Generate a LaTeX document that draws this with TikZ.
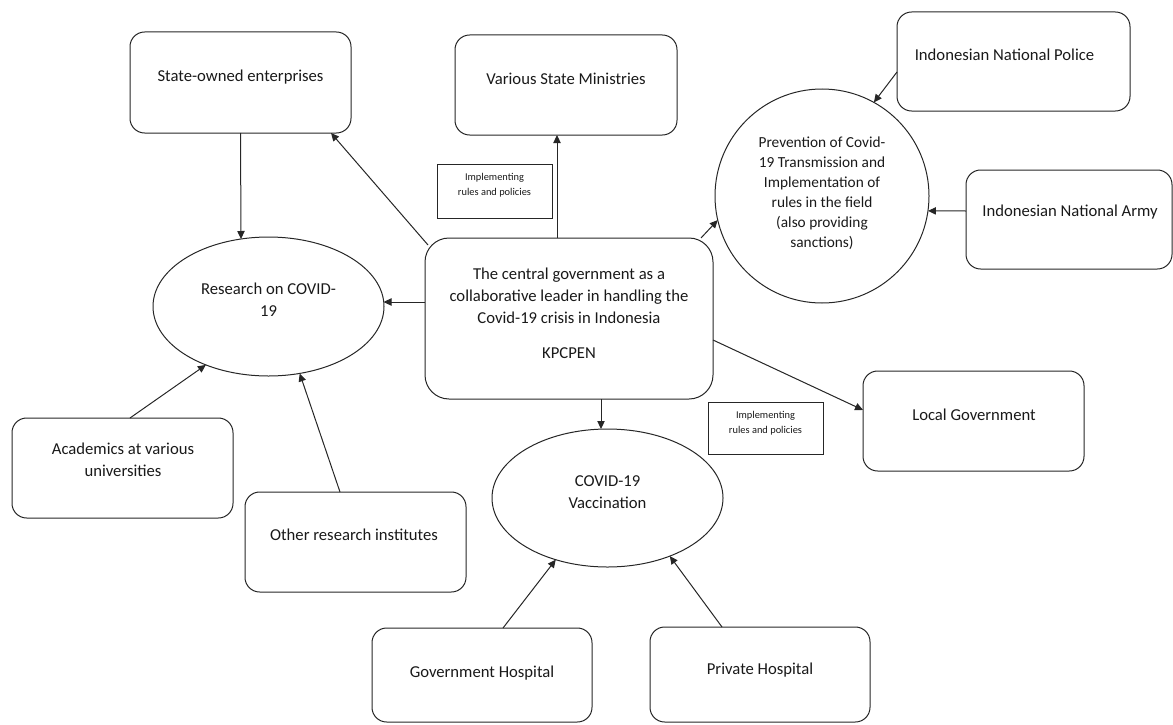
\documentclass[tikz,border=0pt]{standalone}
\usepackage{fontspec}
\setmainfont{Carlito}
\usetikzlibrary{arrows.meta,shapes.geometric,calc}
\begin{document}
\begin{tikzpicture}[x=0.75pt,y=-0.75pt,
  shp/.style={draw=black!85, line width=0.75pt, inner sep=0pt, outer sep=0pt},
  rbox/.style={shp, rectangle, rounded corners=11pt},
  sbox/.style={shp, rectangle},
  ell/.style={shp, ellipse},
  txt/.style={align=center, font=\fontsize{12.5pt}{16.5pt}\selectfont, text=black!90, inner sep=0pt},
  smalltxt/.style={align=center, font=\fontsize{7.8pt}{11.25pt}\selectfont, text=black!90, inner sep=0pt},
  arr/.style={draw=black!85, line width=0.75pt, -{Triangle[length=6pt,width=5.5pt]}}
]
\useasboundingbox (0,0) rectangle (1173,724);

% shapes
\node[rbox, minimum width=165.75pt, minimum height=75.75pt] (soe) at (240.5,82.5) {};
\node[rbox, minimum width=166.5pt, minimum height=75pt] (vsm) at (566,85) {};
\node[rbox, minimum width=174.75pt, minimum height=74.25pt] (police) at (1013.5,61.5) {};
\node[rbox, minimum width=154.5pt, minimum height=74.25pt] (army) at (1069,219.5) {};
\node[shp, circle, minimum size=160.5pt] (prev) at (822,196) {};
\node[rbox, rounded corners=18pt, minimum width=216pt, minimum height=120.75pt] (central) at (569,318.5) {};
\node[sbox, minimum width=86.25pt, minimum height=40.5pt] (impl1) at (494.5,191) {};
\node[ell, minimum width=173.25pt, minimum height=104.25pt] (research) at (268.5,306.5) {};
\node[rbox, minimum width=165.75pt, minimum height=75pt] (acad) at (122.5,468) {};
\node[rbox, minimum width=165.75pt, minimum height=75pt] (other) at (355.5,542) {};
\node[ell, minimum width=173.25pt, minimum height=103.5pt] (vacc) at (607.5,498) {};
\node[sbox, minimum width=86.25pt, minimum height=39pt] (impl2) at (765.5,428) {};
\node[rbox, minimum width=165.75pt, minimum height=75pt] (local) at (973.5,421) {};
\node[rbox, minimum width=165pt, minimum height=70.5pt] (gov) at (482,675) {};
\node[rbox, minimum width=165pt, minimum height=71.25pt] (priv) at (760,674.5) {};

% texts
\node[txt] (tsoe) at (240.5,77) {State-owned enterprises};
\node[txt] (tvsm) at (566,79) {Various State Ministries};
\node[txt] (tpolice) at (1004.5,55) {Indonesian National Police};
\node[txt] (tarmy) at (1070,212) {Indonesian National Army};
\node[align=center, font=\fontsize{11.5pt}{15pt}\selectfont, text=black!90, inner sep=0pt] (tprev) at (822,193)
  {Prevention of Covid-\\19 Transmission and\\Implementation of\\rules in the field\\(also providing\\sanctions)};
\node[txt] (tcentral) at (569,313)
  {The central government as a\\collaborative leader in handling the\\Covid-19 crisis in Indonesia\\[9.75pt]KPCPEN};
\node[smalltxt] (timpl1) at (494.5,185.5) {Implementing\\rules and policies};
\node[txt] (tresearch) at (268.5,300) {Research on COVID-\\19};
\node[txt] (tacad) at (123,460) {Academics at various\\universities};
\node[txt] (tother) at (354,535) {Other research institutes};
\node[txt] (tvacc) at (607.5,492.5) {COVID-19\\Vaccination};
\node[smalltxt] (timpl2) at (765.5,423.5) {Implementing\\rules and policies};
\node[txt] (tlocal) at (974,415) {Local Government};
\node[txt] (tgov) at (482,673) {Government Hospital};
\node[txt] (tpriv) at (760,670) {Private Hospital};

% connectors
\draw[arr] ($(central.north)+(-12,0)$) -- ($(vsm.south)+(-9,0)$);
\draw[arr] ($(central.north east)+(-12,0)$) -- (prev.193);
\draw[arr] ($(central.north west)+(3,7)$) -- ($(soe.south east)+(-20,0)$);
\draw[arr] ($(central.west)+(0,-16.5)$) -- ($(research.east)+(-0.5,-4.5)$);
\draw[arr] ($(central.south)+(32,0)$) -- ($(vacc.north)+(-6.5,0)$);
\draw[arr] ($(central.east)+(0,21.5)$) -- ($(local.west)+(0,-11)$);
\draw[arr] (soe.south) -- ($(research.north)+(-27.5,2)$);
\draw[arr] ($(police.west)+(0,10.5)$) -- (prev.61);
\draw[arr] ($(army.west)+(0,-8.5)$) -- (prev.-8);
\draw[arr] ($(acad.north)+(7.5,0)$) -- (research.223);
\draw[arr] ($(other.north)+(-15.5,0)$) -- (research.-65);
\draw[arr] ($(gov.north)+(21,0)$) -- (vacc.230);
\draw[arr] ($(priv.north)+(-38,0)$) -- (vacc.-43);
\end{tikzpicture}
\end{document}
